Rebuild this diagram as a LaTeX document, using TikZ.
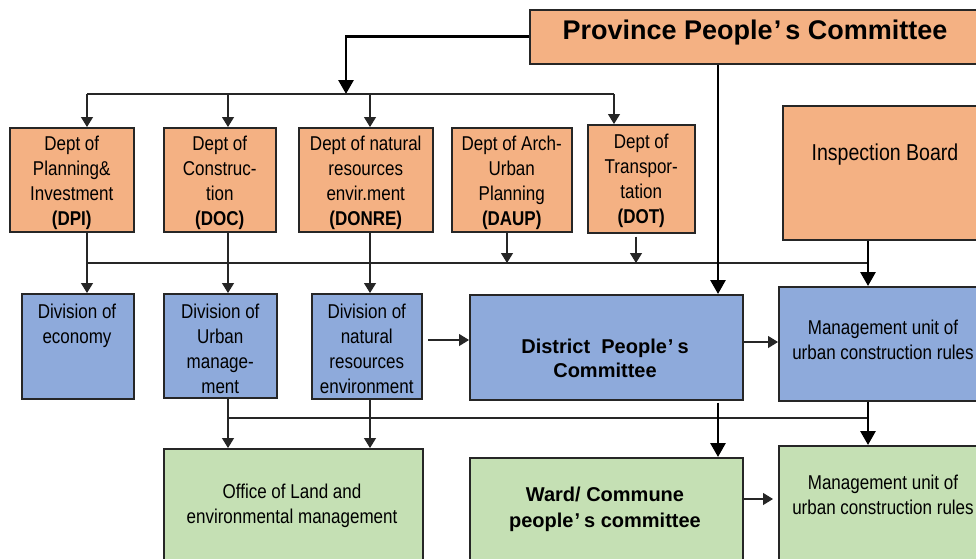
\documentclass[tikz,border=0pt]{standalone}
\usepackage{fontspec}
\setmainfont{Liberation Sans}
\newfontfamily\nar{Liberation Sans}[FakeStretch=0.85]
\usetikzlibrary{arrows.meta}
\definecolor{orangebox}{HTML}{F4B183}
\definecolor{bluebox}{HTML}{8EAADB}
\definecolor{greenbox}{HTML}{C5E0B4}
\definecolor{edgec}{HTML}{262626}
\begin{document}
\begin{tikzpicture}[x=1pt,y=-1pt,
  box/.style={draw=edgec, line width=1.5pt, anchor=north west, inner sep=0pt},
  obox/.style={box, fill=orangebox},
  bbox/.style={box, fill=bluebox},
  gbox/.style={box, fill=greenbox},
  txt/.style={align=center, inner sep=0pt, font=\nar\fontsize{20}{25}\selectfont},
  btxt/.style={align=center, inner sep=0pt, font=\bfseries\fontsize{20}{24}\selectfont},
  thinarrow/.style={draw=black!85, line width=1.2pt, -{Triangle[width=12pt,length=10pt]}},
  thinline/.style={draw=black!85, line width=1.2pt},
  thickarrow/.style={draw=black, line width=2.8pt, -{Triangle[width=15pt,length=14pt]}},
]
\useasboundingbox (0,0) rectangle (976,558);
\clip (0,0) rectangle (976,558);
\fill[white] (0,0) rectangle (976,558);

% top
\node[obox, minimum width=480, minimum height=54] (ppc) at (529,9) {};
\node[btxt, font=\bfseries\fontsize{27}{30}\selectfont] (ppct) at (755,33) {Province People\kern1pt’\kern4pt s Committee};

% departments
\node[obox, minimum width=124, minimum height=104] (dpi) at (9,127) {};
\node[txt] (dpit) at ([yshift=-3pt]dpi.center) {Dept of\\Planning\&\\Investment\\\textbf{(DPI)}};
\node[obox, minimum width=112, minimum height=104] (doc) at (163,127) {};
\node[txt] (doct) at ([yshift=-3pt]doc.center) {Dept of\\Construc-\\tion\\\textbf{(DOC)}};
\node[obox, minimum width=134, minimum height=104] (donre) at (298,127) {};
\node[txt] (donret) at ([yshift=-3pt]donre.center) {Dept of natural\\resources\\envir.ment\\\textbf{(DONRE)}};
\node[obox, minimum width=120, minimum height=104] (daup) at (451,127) {};
\node[txt] (daupt) at ([yshift=-3pt]daup.center) {Dept of Arch-\\Urban\\Planning\\\textbf{(DAUP)}};
\node[obox, minimum width=107, minimum height=108] (dot) at (587,124) {};
\node[txt] (dott) at ([yshift=-2pt]dot.center) {Dept of\\Transpor-\\tation\\\textbf{(DOT)}};
\node[obox, minimum width=220, minimum height=134] (insp) at (782,105) {};
\node[txt, font=\nar\fontsize{23}{27}\selectfont] (inspt) at (885,155) {Inspection Board};

% divisions
\node[bbox, minimum width=112, minimum height=105] (dive) at (21,293) {};
\node[txt] (divet) at (77,325.5) {Division of\\economy};
\node[bbox, minimum width=113, minimum height=104] (divu) at (163,293) {};
\node[txt] (divut) at ([yshift=-3pt]divu.center) {Division of\\Urban\\manage-\\ment};
\node[bbox, minimum width=110, minimum height=105] (divn) at (311,293) {};
\node[txt] (divnt) at ([yshift=-3pt]divn.center) {Division of\\natural\\resources\\environment};
\node[bbox, minimum width=273, minimum height=105] (dpc) at (469,294) {};
\node[btxt] (dpct) at (605,358) {District\ \ People\kern1pt’\kern4pt s\\Committee};
\node[bbox, minimum width=220, minimum height=114] (mu1) at (778,286) {};
\node[txt] (mu1t) at (883,340) {Management unit of\\urban construction rules};

% bottom
\node[gbox, minimum width=259, minimum height=130] (office) at (163,448) {};
\node[txt] (officet) at (292,505.5) {Office of Land and\\environmental management};
\node[gbox, minimum width=273, minimum height=120] (ward) at (469,457) {};
\node[btxt, font=\bfseries\fontsize{20}{26}\selectfont] (wardt) at (605,509) {Ward/ Commune\\people\kern1pt’\kern4pt s committee};
\node[gbox, minimum width=220, minimum height=130] (mu2) at (778,445) {};
\node[txt] (mu2t) at (883,495) {Management unit of\\urban construction rules};

% helper coordinates
\coordinate (b1) at (346,94);
\coordinate (c1) at (87,94);
\coordinate (c2) at (228,94);
\coordinate (c3) at (370,94);
\coordinate (c4) at (614,94);
\coordinate (d1) at (87,263);
\coordinate (d5) at (507,263);
\coordinate (d6) at (636,263);
\coordinate (d9) at (868,263);
\coordinate (pv) at (718,0);
\coordinate (a1) at (428,340);
\coordinate (a2) at (742,342);
\coordinate (e1) at (227,418);
\coordinate (e9) at (868,418);
\coordinate (a3) at (744,499);

% province to departments
\draw[thickarrow] (ppc.west) -| (b1);
\draw[thinline] (c1) -- (c4);
\draw[thinarrow] (c1) -- (c1 |- dpi.north);
\draw[thinarrow] (c2) -- (c2 |- doc.north);
\draw[thinarrow] (c3) -- (c3 |- donre.north);
\draw[thinarrow] (c4) -- (c4 |- dot.north);

% second level bus
\draw[thinline] (d1) -- (d9);
\draw[thinarrow] (c1 |- dpi.south) -- (c1 |- dive.north);
\draw[thinarrow] (c2 |- doc.south) -- (c2 |- divu.north);
\draw[thinarrow] (c3 |- donre.south) -- (c3 |- divn.north);
\draw[thinarrow] (d5 |- daup.south) -- (d5);
\draw[thinarrow] ([yshift=-3pt]d6 |- dot.south) -- (d6);
\draw[thickarrow] (d9 |- insp.south) -- (d9 |- mu1.north);
\draw[thickarrow] (pv |- ppc.south) -- (pv |- dpc.north);

% middle row
\draw[thinarrow] (a1) -- (a1 -| dpc.west);
\draw[thinarrow] (a2) -- (a2 -| mu1.west);

% third bus
\draw[thinline] (e1) -- (e9);
\draw[thinarrow] (c2 |- divu.south) -- (c2 |- office.north);
\draw[thinarrow] (c3 |- divn.south) -- (c3 |- office.north);
\draw[thickarrow] ([yshift=-2pt]pv |- dpc.south) -- (pv |- ward.north);
\draw[thickarrow] (e9 |- mu1.south) -- (e9 |- mu2.north);
\draw[thinarrow, shorten >=5pt] (a3) -- (a3 -| mu2.west);
\end{tikzpicture}
\end{document}
